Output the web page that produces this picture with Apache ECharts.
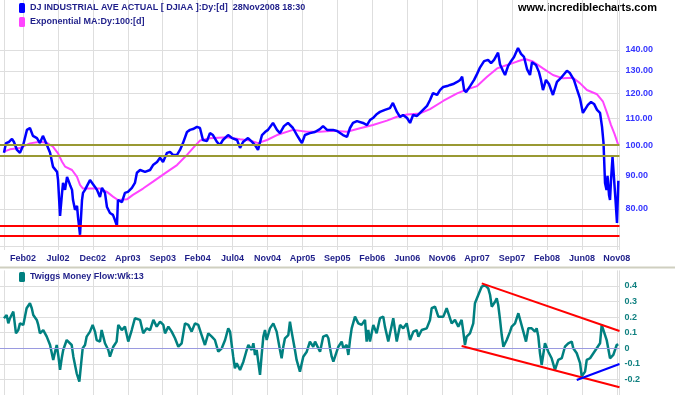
<!DOCTYPE html>
<html><head><meta charset="utf-8">
<script src="https://cdn.jsdelivr.net/npm/echarts@6/dist/echarts.min.js"></script>
<style>html,body{margin:0;padding:0;background:#fff}#c{width:675px;height:395px}</style>
</head><body><div id="c"></div>
<script>
// ---- data (x in weeks from first bar) ----
const priceName = 'DJ INDUSTRIAL AVE ACTUAL [ DJIAA ]:Dy:[d]  28Nov2008 18:30';
const maName = 'Exponential MA:Dy:100:[d]';
const mfName = 'Twiggs Money Flow:Wk:13';

const priceWeeks = [0,1.2,3.0,4.8,6.0,7.8,9.6,11.4,13.8,15.6,
17.4,19.8,21.6,23.4,25.8,27.7,29.5,31.9,32.5,33.7,
34.9,35.5,36.7,37.9,39.7,40.9,41.5,42.7,43.9,44.5,
45.7,46.9,47.5,48.7,49.9,51.7,52.9,54.7,55.9,57.7,
58.9,60.7,61.9,63.7,65.5,66.7,67.9,68.5,70.9,72.7,
74.5,76.9,78.7,79.9,81.8,84.8,87.8,89.6,92.0,93.8,
95.6,98.0,99.8,101.6,104.0,105.8,107.6,110.0,111.8,113.6,
116.0,117.8,119.6,122.0,123.8,125.6,128.0,129.8,131.6,134.7,
137.1,140.1,141.9,143.7,146.7,149.1,150.9,152.7,155.1,156.9,
158.7,161.7,164.1,165.9,168.3,170.7,171.9,173.7,176.1,177.9,
179.1,180.9,183.9,186.9,189.9,191.8,194.2,197.8,200.2,203.8,
206.2,208.0,209.8,212.2,215.8,218.2,220.0,221.8,224.2,226.0,
229.0,232.0,233.8,236.2,238.1,239.9,242.3,244.1,245.9,248.3,
250.1,251.9,254.3,256.1,257.9,260.3,262.1,264.0,266.4,268.2,
270.0,272.4,274.2,275.4,276.6,277.8,280.2,282.6,284.4,286.2,
288.6,291.0,292.8,294.6,297.0,298.2,300.0,301.2,303.0,304.8,
306.6,309.0,310.8,312.6,314.4,316.2,317.4,319.8,321.6,322.8,
324.0,325.8,327.6,330.0,332.4,335.4,338.4,340.2,342.6,344.4,
346.2,348.0,349.2,351.0,352.9,354.7,356.5,358.3,359.5,360.4,
361.3,362.2,362.8,363.7,364.3,364.9,365.8,366.7,367.6,368.5,
369.3];
const priceValues = [97.4,100.8,101.2,102.3,101.2,98.4,97.4,99.8,105.6,106.3,
103.4,102.6,100.8,103.4,100.1,97.4,92.7,91.1,88.5,78.0,
84.6,87.6,85.5,89.5,87.0,85.5,82.5,79.7,80.8,77.7,
73.0,82.5,84.6,85.5,86.7,88.5,89.1,86.4,85.5,83.4,
86.1,84.6,80.5,78.8,78.3,76.9,75.3,82.5,81.9,84.6,
84.9,86.1,87.6,90.8,91.7,91.1,91.7,93.3,94.3,95.7,
94.3,97.4,97.7,96.7,96.7,98.4,100.8,104.8,105.6,105.9,
106.7,106.3,101.9,101.5,104.4,103.7,101.2,100.1,101.9,103.7,
102.6,101.9,99.1,101.2,102.6,101.2,100.1,98.4,103.7,104.8,
105.6,108.2,105.6,104.4,107.0,108.2,108.6,106.3,103.7,101.9,
100.8,103.7,104.4,104.8,105.9,107.0,105.6,105.6,105.2,103.7,
103.0,106.3,108.2,108.9,108.2,107.4,109.3,110.1,111.7,112.5,
113.3,114.0,116.1,112.5,110.5,111.3,110.1,108.2,111.3,110.9,
112.1,113.3,114.9,117.3,120.2,119.4,121.5,122.8,123.2,123.7,
124.1,125.0,125.9,127.3,121.5,120.6,123.2,125.9,128.6,131.6,
134.5,135.1,133.6,135.1,138.6,132.9,129.9,128.1,132.2,134.5,
136.5,140.9,138.0,136.5,130.8,128.1,134.0,132.7,129.4,125.9,
121.5,125.9,124.1,119.4,125.0,127.3,130.0,129.0,125.9,121.9,
118.1,112.1,111.7,115.3,116.5,115.7,113.3,112.1,106.7,100.8,
87.6,85.5,89.8,84.0,82.5,88.5,96.0,89.1,82.5,76.1,
88.3];

const maWeeks = [0,3.6,9.6,15.6,21.6,25.8,29.5,32.5,34.9,36.7,
40.9,43.9,45.7,47.5,51.7,57.7,61.9,65.5,68.5,73.9,
77.5,83.6,89.6,98.0,104.0,110.0,114.8,117.8,123.8,134.1,
141.9,147.9,152.7,158.1,164.1,173.7,182.1,189.9,197.8,206.2,
214.0,221.8,230.2,236.2,242.3,250.1,256.1,264.0,272.4,278.4,
284.4,290.4,296.4,302.4,308.4,313.2,318.0,324.0,330.0,336.0,
342.0,346.2,350.4,356.5,360.1,362.5,364.9,367.0,369.3];
const maValues = [97.8,98.6,99.1,100.7,101.3,100.9,99.5,97.2,94.4,92.8,
91.7,89.5,87.0,85.9,85.9,85.9,84.9,83.5,82.5,82.7,
84.0,85.9,88.0,91.1,93.3,96.7,99.8,101.7,102.5,102.9,
102.2,101.7,100.8,101.9,103.7,105.6,104.9,104.9,105.3,104.9,
106.2,107.4,109.1,110.6,111.5,111.9,113.6,116.9,120.1,121.8,
123.2,127.3,131.1,132.7,134.3,135.5,134.3,131.1,128.1,126.6,
126.9,124.5,121.5,119.7,116.6,112.1,107.4,104.1,100.1];

const mfWeeks = [0,1.6,2.6,3.6,5.6,7.2,8.6,9.6,11.6,12.6,
13.6,15.6,16.7,17.6,19.7,20.6,21.6,23.6,25.7,27.7,
29.6,30.7,31.7,32.6,33.7,34.7,35.6,36.7,37.7,38.7,
40.7,41.7,42.7,43.7,45.3,46.3,47.3,48.7,49.7,50.7,
51.7,53.3,54.7,55.7,57.7,58.7,60.7,62.7,63.7,65.7,
67.7,68.7,70.8,72.7,74.7,76.8,78.7,79.8,81.8,83.7,
85.8,87.8,89.8,91.8,93.8,95.8,96.8,98.8,100.8,102.8,
104.8,106.8,108.8,110.8,112.8,114.8,116.8,118.8,120.8,122.8,
124.9,126.8,128.8,130.9,132.9,134.8,135.9,136.9,137.8,138.8,
139.9,141.9,142.9,143.9,145.9,146.9,148.9,149.9,150.9,151.9,
153.9,154.9,155.9,156.9,157.9,159.9,161.9,162.9,163.9,165.9,
166.9,167.9,168.9,170.9,171.9,172.9,174.9,175.9,177.9,179.9,
182.0,183.9,185.9,187.0,188.0,190.0,191.9,194.0,195.0,196.0,
197.0,198.0,200.0,201.0,203.0,204.0,206.0,207.0,208.0,209.0,
211.0,213.0,215.0,217.0,218.0,219.0,220.0,222.0,224.0,226.0,
228.0,229.0,231.0,234.0,236.1,238.1,240.0,242.1,244.1,246.1,
248.1,249.1,251.1,254.1,256.1,257.1,259.1,261.1,264.1,266.1,
267.1,269.1,271.1,273.1,275.1,276.1,277.1,278.1,280.1,282.1,
283.1,285.1,287.2,289.1,291.1,292.2,293.2,295.2,296.2,297.1,
298.2,299.2,300.2,302.2,304.2,305.2,307.2,309.2,310.2,312.2,
313.8,315.2,317.2,319.2,320.2,321.2,322.2,323.2,325.2,327.2,
329.2,331.2,333.2,335.3,337.2,339.2,341.3,342.2,344.3,346.3,
347.3,349.3,350.3,352.3,354.3,356.3,358.3,359.3,360.3,362.3,
364.3,366.3,367.3,368.3,369.3];
const mfValues = [0.193,0.214,0.16,0.193,0.235,0.096,0.117,0.16,0.15,0.203,
0.257,0.289,0.257,0.214,0.182,0.15,0.096,0.117,0.075,0.021,
-0.075,-0.022,0.021,-0.043,-0.139,-0.064,-0.011,-0.022,0.053,0.064,
0.021,-0.054,-0.107,-0.161,-0.214,-0.107,0,0.021,0.075,0.064,
0.107,0.15,0.107,0.053,0.043,0.117,0.032,-0.011,-0.054,0.01,
0.043,0.15,0.117,0.139,0.043,0.117,0.193,0.203,0.182,0.096,
0.128,0.117,0.182,0.139,0.171,0.15,0.096,0.139,0.107,0.064,
0.01,0.032,0.16,0.15,0.107,0.16,0.15,0.085,0.021,0.096,
0.075,0.053,-0.022,0,0.053,0.128,0.107,0.021,-0.054,-0.128,
-0.096,-0.139,-0.128,-0.086,-0.011,0.021,-0.011,0.032,-0.043,-0.011,
-0.171,-0.043,0.075,0.117,0.053,0.128,0.16,0.171,0.107,-0.011,
-0.064,0.01,0.064,0.085,0.171,0.107,-0.011,-0.075,-0.15,-0.054,
-0.022,0.043,0.01,0.043,0.043,-0.022,0.075,0.085,0.064,0,
-0.054,-0.086,-0.022,0.01,0.043,0,0.021,-0.043,0.053,0.128,
0.203,0.16,0.15,0.182,0.043,0.117,0.043,0.15,0.096,0.193,
0.203,0.139,0.043,0.193,0.043,0.15,0.128,0.16,0.053,0.107,
0.117,0.075,0.117,0.128,0.182,0.257,0.267,0.203,0.203,0.257,
0.225,0.16,0.182,0.139,0.182,0.107,0.021,0.075,0.096,0.16,
0.289,0.342,0.396,0.406,0.385,0.342,0.267,0.299,0.321,0.278,
0.182,0.085,0.01,0.053,0.107,0.139,0.16,0.225,0.214,0.107,
0.043,0.128,0.128,0.107,0.128,0.075,-0.032,-0.107,0.032,-0.022,
-0.064,-0.139,-0.075,-0.064,0.01,0.032,0.043,0,-0.032,-0.096,
-0.18,-0.15,-0.075,-0.064,-0.032,0,0.032,0.15,0.139,0.053,
-0.064,-0.043,-0.054,0.021,0.025];

// horizontal support / resistance levels on price panel
const resistanceLevels = [100.1, 96.4];
const supportLevels = [75.24, 72.86];
// trend lines on money-flow panel: [[week, value], [week, value]]
const mfUpperTrend = [[287.2, 0.417], [370, 0.111]];
const mfLowerTrend = [[275.1, 0.015], [370, -0.25]];
const mfBlueTrend = [[344.3, -0.204], [370, -0.101]];

// ticks
const xTickWeeks = [11.4,32.4,53.4,74.4,95.4,116.4,137.4,158.4,179.4,200.4,221.4,242.4,263.4,284.4,305.4,326.4,347.4,368.4];
const xTickLabels = ['Feb02','Jul02','Dec02','Apr03','Sep03','Feb04','Jul04','Nov04','Apr05','Sep05','Feb06','Jun06','Nov06','Apr07','Sep07','Feb08','Jun08','Nov08'];
const xGridWeeks = [0.2].concat(xTickWeeks, [370]);
const priceGridValues = [70,80,90,100,110,120,130,140];
const priceLabelValues = [80,90,100,110,120,130,140];
const mfTickValues = [-0.2,-0.1,0,0.1,0.2,0.3,0.4];

if (priceWeeks.length !== priceValues.length || maWeeks.length !== maValues.length || mfWeeks.length !== mfValues.length) {
  throw new Error('length mismatch ' + priceWeeks.length + '/' + priceValues.length + ' ' + maWeeks.length + '/' + maValues.length + ' ' + mfWeeks.length + '/' + mfValues.length);
}

const zip = (xs, ys) => xs.map((x, i) => [x, ys[i]]);
const FONT = 'Liberation Sans';
const X_MIN = -2.4, X_MAX = 370;

function xAxisFor(grid, showLabel) {
  return {
    type: 'value', gridIndex: grid, min: X_MIN, max: X_MAX,
    axisLine: {show: false},
    axisTick: {show: false, customValues: xGridWeeks},
    splitLine: {show: true, lineStyle: {color: '#dedede', width: 1}},
    axisLabel: {
      show: showLabel, customValues: xTickWeeks, margin: 4,
      formatter: v => { const i = xTickWeeks.indexOf(v); return i >= 0 ? xTickLabels[i] : ''; },
      color: '#1f1f8a', fontSize: 9, fontWeight: 'bold', fontFamily: FONT
    }
  };
}

const chart = echarts.init(document.getElementById('c'), null, {renderer: 'canvas'});
chart.setOption({
  animation: false,
  backgroundColor: '#ffffff',
  grid: [
    {left: 0, top: 0, width: 619.5, height: 250},
    {left: 0, top: 270.4, width: 619.5, height: 124.6}
  ],
  legend: [
    {left: 19, top: 3, orient: 'vertical', padding: 0, itemGap: 4, itemWidth: 6, itemHeight: 10,
     icon: 'roundRect', selectedMode: false, data: [priceName, maName],
     textStyle: {fontSize: 9, fontWeight: 'bold', color: '#1f1f8a', fontFamily: FONT}},
    {left: 19, top: 272, orient: 'vertical', padding: 0, itemWidth: 6, itemHeight: 10,
     icon: 'roundRect', selectedMode: false, data: [mfName],
     textStyle: {fontSize: 9, fontWeight: 'bold', color: '#1f1f8a', fontFamily: FONT}}
  ],
  xAxis: [xAxisFor(0, true), xAxisFor(1, false)],
  yAxis: [
    {type: 'log', logBase: 10, gridIndex: 0, position: 'right', min: 69.19, max: 166.8,
     axisLine: {show: false},
     axisTick: {show: false, customValues: priceGridValues},
     splitLine: {show: true, lineStyle: {color: '#dedede', width: 1}},
     axisLabel: {customValues: priceLabelValues, margin: 6, formatter: v => Number(v).toFixed(2),
       color: '#3535ff', fontSize: 9, fontWeight: 'bold', fontFamily: FONT}},
    {type: 'value', gridIndex: 1, position: 'right', min: -0.3, max: 0.5,
     axisLine: {show: false},
     axisTick: {show: false, customValues: mfTickValues},
     splitLine: {show: true, lineStyle: {color: '#dedede', width: 1}},
     axisLabel: {customValues: mfTickValues, margin: 5, formatter: v => String(Math.round(v * 10) / 10),
       color: '#108080', fontSize: 9, fontWeight: 'bold', fontFamily: FONT}}
  ],
  graphic: [
    {type: 'rect', shape: {x: 0, y: 266.5, width: 675, height: 2}, style: {fill: '#cfcfc0'}, silent: true},
    {type: 'text', left: 518, top: 2, silent: true,
     style: {text: 'www.incrediblecharts.com', font: 'bold 11px "Liberation Sans"', fill: '#000000'}}
  ],
  series: [
    {name: maName, type: 'line', xAxisIndex: 0, yAxisIndex: 0, data: zip(maWeeks, maValues),
     symbol: 'none', silent: true, z: 3,
     lineStyle: {color: '#ff44ff', width: 2}, itemStyle: {color: '#ff44ff'},
     markLine: {silent: true, symbol: ['none', 'none'], label: {show: false}, emphasis: {disabled: true},
       data: resistanceLevels.map(v => ({yAxis: v, lineStyle: {color: '#999933', width: 2, type: 'solid'}}))
         .concat(supportLevels.map(v => ({yAxis: v, lineStyle: {color: '#ff0000', width: 2, type: 'solid'}})))}},
    {name: priceName, type: 'line', xAxisIndex: 0, yAxisIndex: 0, data: zip(priceWeeks, priceValues),
     symbol: 'none', silent: true, z: 4,
     lineStyle: {color: '#0000ff', width: 2.5}, itemStyle: {color: '#0000ff'}},
    {name: mfName, type: 'line', xAxisIndex: 1, yAxisIndex: 1, data: zip(mfWeeks, mfValues),
     symbol: 'none', silent: true, z: 4,
     lineStyle: {color: '#008080', width: 2.5}, itemStyle: {color: '#008080'},
     markLine: {silent: true, symbol: ['none', 'none'], label: {show: false}, emphasis: {disabled: true},
       data: [
         {yAxis: 0, lineStyle: {color: '#9a9ae0', width: 1, type: 'solid'}},
         [{coord: mfUpperTrend[0], lineStyle: {color: '#ff0000', width: 2, type: 'solid'}}, {coord: mfUpperTrend[1]}],
         [{coord: mfLowerTrend[0], lineStyle: {color: '#ff0000', width: 2, type: 'solid'}}, {coord: mfLowerTrend[1]}],
         [{coord: mfBlueTrend[0], lineStyle: {color: '#0000ff', width: 2, type: 'solid'}}, {coord: mfBlueTrend[1]}]
       ]}}
  ]
});
</script></body></html>
